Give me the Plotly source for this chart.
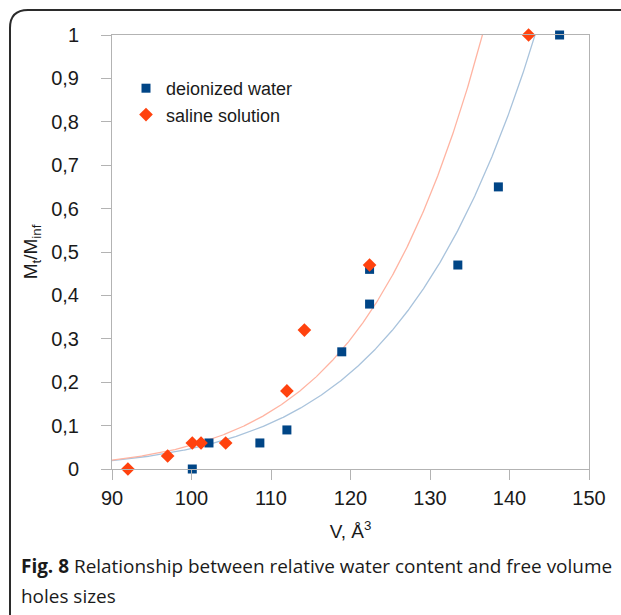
import numpy as np
import plotly.graph_objects as go

# Free volume hole size V (Å^3) and relative water content Mt/Minf
water_v = [100.1, 102.2, 108.6, 112.0, 118.9, 122.4, 122.4, 133.5, 138.6, 146.3]
water_m = [0.0, 0.06, 0.06, 0.09, 0.27, 0.38, 0.46, 0.47, 0.65, 1.0]

saline_v = [92.0, 97.0, 100.1, 101.2, 104.3, 112.0, 114.2, 122.4, 142.4]
saline_m = [0.0, 0.03, 0.06, 0.06, 0.06, 0.18, 0.32, 0.47, 1.0]

x_ticks = [90, 100, 110, 120, 130, 140, 150]
y_ticks = [0, 0.1, 0.2, 0.3, 0.4, 0.5, 0.6, 0.7, 0.8, 0.9, 1]

BLUE = "#004586"
ORANGE = "#ff420e"
BLUE_FIT = "#a9c3dc"
ORANGE_FIT = "#ffb4a2"
SANS = "Arial, 'Liberation Sans', sans-serif"

W, H = 621, 615
ML, MR, MT, MB = 112, 32, 35, 146


def power_fit(xs, ys):
    """Least-squares power trend y = a * x^n on the positive points."""
    xs = np.asarray(xs, float)
    ys = np.asarray(ys, float)
    keep = ys > 0
    n, ln_a = np.polyfit(np.log(xs[keep]), np.log(ys[keep]), 1)
    return np.exp(ln_a), n


grid = np.linspace(x_ticks[0], x_ticks[-1], 600)

fig = go.Figure()

for xs, ys, col in [(water_v, water_m, BLUE_FIT), (saline_v, saline_m, ORANGE_FIT)]:
    a, n = power_fit(xs, ys)
    fig.add_trace(go.Scatter(
        x=grid, y=a * grid ** n, mode="lines",
        line=dict(color=col, width=1.3), showlegend=False,
        hoverinfo="skip", cliponaxis=True,
    ))

fig.add_trace(go.Scatter(
    x=water_v, y=water_m, mode="markers", name="deionized water",
    marker=dict(symbol="square", size=9, color=BLUE),
    cliponaxis=False,
))
fig.add_trace(go.Scatter(
    x=saline_v, y=saline_m, mode="markers", name="saline solution",
    marker=dict(symbol="diamond", size=10.5, color=ORANGE),
    cliponaxis=False,
))

axis_common = dict(
    showline=True, linecolor="#b3b3b3", linewidth=1, mirror=True,
    showgrid=False, zeroline=False,
    ticks="outside", ticklen=10, tickcolor="#b3b3b3", tickwidth=1,
    tickfont=dict(family=SANS, size=20, color="#1a1a1a"),
)

fig.update_xaxes(
    range=[x_ticks[0], x_ticks[-1]], tickvals=x_ticks,
    ticklabelstandoff=1,
    title=dict(text="V, Å<sup>3</sup>", standoff=16,
               font=dict(family=SANS, size=19, color="#1a1a1a")),
    **axis_common,
)
fig.update_yaxes(
    range=[0, 1], tickvals=y_ticks,
    ticklabelstandoff=18,
    title=dict(text="M<sub>t</sub>/M<sub>inf</sub>", standoff=8,
               font=dict(family=SANS, size=19, color="#1a1a1a")),
    **axis_common,
)

pw = W - ML - MR
ph = H - MT - MB


def px(xp):
    return (xp - ML) / pw


def py(yp):
    return (H - MB - yp) / ph


# Rounded frame around figure and caption
r = 18
x0, y0 = px(10), py(10)
x1, y1 = px(640), py(640)
rx, ry = r / pw, r / ph
frame = (f"M {x0},{y1} L {x0},{y0 - ry} Q {x0},{y0} {x0 + rx},{y0} L {x1},{y0}")
fig.add_shape(type="path", xref="paper", yref="paper", path=frame,
              line=dict(color="#2b2b2b", width=2), layer="above")

cap_font = dict(family="'Open Sans', sans-serif", size=18.95, color="#1a1a1a")
fig.add_annotation(
    xref="paper", yref="paper", x=px(19), y=py(566), xanchor="left", yanchor="middle",
    text="<b>Fig. 8</b> Relationship between relative water content and free volume",
    showarrow=False, font=cap_font, align="left",
)
fig.add_annotation(
    xref="paper", yref="paper", x=px(19), y=py(596), xanchor="left", yanchor="middle",
    text="holes sizes", showarrow=False, font=cap_font, align="left",
)

fig.update_layout(
    width=W, height=H,
    margin=dict(l=ML, r=MR, t=MT, b=MB),
    paper_bgcolor="white", plot_bgcolor="white",
    separators=", ",
    legend=dict(
        x=px(126), y=py(70), xanchor="left", yanchor="top",
        bgcolor="rgba(0,0,0,0)", itemwidth=30,
        font=dict(family=SANS, size=18, color="#1a1a1a"),
    ),
)

fig.write_html("out.html")
